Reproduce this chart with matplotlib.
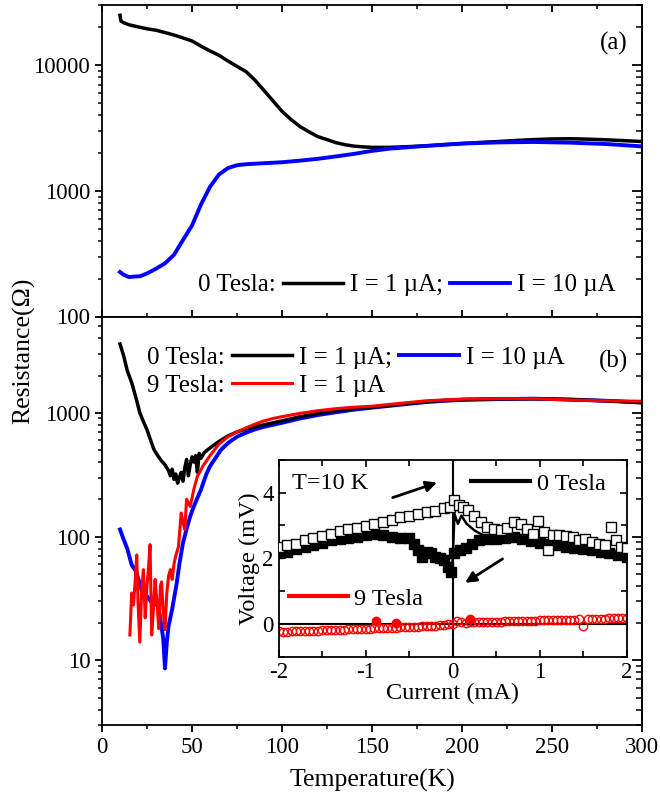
import matplotlib
matplotlib.use('Agg')
import matplotlib.pyplot as plt
from matplotlib import ticker
from matplotlib.lines import Line2D
import numpy as np

plt.rcParams['font.family'] = ['Liberation Serif', 'DejaVu Serif']
plt.rcParams['axes.unicode_minus'] = False
plt.rcParams['axes.linewidth'] = 1.3

# ---- panel (a): 0 Tesla, two currents ----
Ta_1uA = [10, 10.5, 12, 15, 20, 25, 30, 35, 40, 45, 50, 55, 60, 65, 70, 75, 80, 85, 90, 95,
          100, 105, 110, 115, 120, 125, 130, 135, 140, 145, 150, 160, 170, 180, 190, 200,
          210, 220, 230, 240, 250, 260, 270, 280, 290, 300]
Ra_1uA = [25000, 22500, 21800, 21000, 20200, 19500, 19000, 18200, 17400, 16500, 15600, 14200,
          13000, 12000, 10800, 9800, 8900, 7600, 6300, 5200, 4300, 3700, 3250, 2950, 2700,
          2560, 2420, 2330, 2270, 2240, 2220, 2220, 2250, 2280, 2330, 2380, 2430, 2470, 2520,
          2560, 2590, 2600, 2580, 2550, 2510, 2470]
Ta_10uA = [10, 12, 15, 18, 21, 25, 30, 35, 40, 45, 50, 55, 60, 65, 70, 75, 80, 90, 100, 110,
           120, 130, 140, 150, 160, 180, 200, 220, 240, 260, 280, 300]
Ra_10uA = [226, 215, 206, 208, 209, 220, 240, 265, 310, 406, 530, 780, 1077, 1350, 1520, 1600,
           1630, 1660, 1690, 1740, 1800, 1880, 1970, 2080, 2170, 2280, 2380, 2430, 2450, 2420,
           2360, 2260]

# ---- panel (b) ----
Tb_0T_1uA = [10, 12, 14, 16.5, 19, 21, 23, 25, 27, 29, 31, 33, 35, 37, 38, 39, 40, 41, 42, 43,
             44, 45, 46, 47, 48, 49, 50, 51, 52, 53, 54, 55, 57, 60, 63, 66, 70, 75, 80, 85,
             90, 95, 100, 110, 120, 130, 140, 150, 160, 170, 180, 190, 200, 220, 240, 260,
             280, 300]
Rb_0T_1uA = [3600, 2900, 2200, 1750, 1300, 1000, 850, 730, 600, 500, 450, 410, 380, 340, 310,
             350, 290, 320, 270, 300, 330, 280, 360, 420, 310, 380, 440, 400, 450, 330, 470,
             430, 480, 520, 560, 600, 650, 700, 740, 770, 800, 830, 860, 930, 990, 1040, 1080,
             1110, 1150, 1190, 1230, 1260, 1280, 1295, 1300, 1280, 1250, 1210]
Tb_0T_10uA = [10, 12, 14, 16.5, 19, 22, 25, 27, 29, 31, 33, 34, 35, 36, 37, 39, 41.5, 43, 45,
              47, 49, 51, 53, 55, 58, 60, 63, 66, 70, 75, 80, 85, 90, 95, 100, 110, 120, 130,
              140, 150, 160, 170, 180, 190, 200, 220, 240, 260, 280, 300]
Rb_0T_10uA = [114, 95, 80, 59, 52, 37, 33, 30, 28, 29, 19, 15, 8.6, 14, 19, 26, 42, 60, 89,
              115, 146, 175, 205, 240, 320, 370, 430, 500, 570, 640, 690, 735, 770, 800, 830,
              900, 960, 1010, 1060, 1100, 1140, 1180, 1220, 1250, 1270, 1290, 1300, 1280, 1250,
              1210]
Tb_9T_1uA = [15.5, 16.5, 17.5, 18.5, 19.3, 20, 21, 22, 23, 24, 25, 26, 26.7, 27.6, 28.5, 29.5,
             30.5, 31.5, 32.5, 33.1, 34, 35, 36, 37, 38, 39, 40, 41, 42.5, 44, 45, 46, 47, 49,
             51, 53, 56, 60, 65, 70, 75, 80, 85, 90, 95, 100, 110, 120, 130, 140, 150, 160,
             170, 180, 190, 200, 220, 240, 260, 280, 300]
Rb_9T_1uA = [16, 35, 28, 45, 71, 30, 14, 35, 54, 22, 40, 60, 86, 16, 25, 45, 30, 18, 40, 43,
             25, 17.7, 35, 48, 54, 45, 60, 70, 83, 155, 130, 114, 200, 175, 240, 307, 370, 450,
             560, 640, 700, 756, 810, 860, 900, 930, 990, 1040, 1080, 1110, 1130, 1170, 1210,
             1250, 1270, 1290, 1300, 1300, 1270, 1250, 1240]

# ---- inset: V-I at T = 10 K ----
I_open = [-2.0, -1.9, -1.8, -1.7, -1.6, -1.5, -1.4, -1.3, -1.2, -1.1, -1.0, -0.9, -0.8, -0.7,
          -0.6, -0.5, -0.4, -0.3, -0.2, -0.1, -0.03, 0.02, 0.07, 0.12, 0.18, 0.25, 0.32, 0.4,
          0.48, 0.55, 0.62, 0.7, 0.78, 0.85, 0.92, 0.98, 1.05, 1.1, 1.15, 1.22, 1.3, 1.38,
          1.45, 1.52, 1.6, 1.68, 1.75, 1.82, 1.88, 1.94, 2.0]
V_open = [2.35, 2.42, 2.45, 2.55, 2.62, 2.68, 2.75, 2.82, 2.88, 2.92, 2.98, 3.03, 3.1, 3.17,
          3.25, 3.3, 3.36, 3.42, 3.45, 3.52, 3.55, 3.78, 3.62, 3.55, 3.48, 3.3, 3.1, 2.95,
          2.88, 2.85, 2.92, 3.1, 3.05, 2.9, 2.75, 3.15, 2.8, 2.25, 2.72, 2.7, 2.68, 2.65, 2.55,
          2.6, 2.5, 2.45, 2.4, 2.95, 2.55, 2.35, 2.3]
I_fill = [-2.0, -1.9, -1.8, -1.7, -1.6, -1.5, -1.4, -1.3, -1.2, -1.1, -1.0, -0.9, -0.8, -0.7,
          -0.6, -0.5, -0.45, -0.4, -0.35, -0.3, -0.25, -0.2, -0.15, -0.1, -0.05, -0.02, 0.02,
          0.08, 0.15, 0.22, 0.3, 0.4, 0.5, 0.6, 0.7, 0.8, 0.9, 1.0, 1.1, 1.2, 1.3, 1.4, 1.5,
          1.6, 1.7, 1.8, 1.9, 2.0]
V_fill = [2.15, 2.2, 2.28, 2.35, 2.42, 2.48, 2.55, 2.6, 2.62, 2.65, 2.7, 2.75, 2.72, 2.65,
          2.62, 2.62, 2.45, 2.25, 2.05, 2.2, 2.15, 2.05, 2.0, 1.95, 1.75, 1.6, 2.15, 2.25, 2.3,
          2.45, 2.55, 2.6, 2.6, 2.62, 2.65, 2.58, 2.52, 2.48, 2.45, 2.4, 2.36, 2.32, 2.28, 2.24,
          2.2, 2.15, 2.1, 2.05]
I_line = [-2.0, -1.8, -1.6, -1.4, -1.2, -1.0, -0.9, -0.8, -0.7, -0.6, -0.5, -0.45, -0.4, -0.35,
          -0.3, -0.25, -0.2, -0.15, -0.1, -0.05, -0.02, 0.0, 0.02, 0.06, 0.1, 0.16, 0.25, 0.35,
          0.45, 0.6, 0.7, 0.8, 1.0, 1.2, 1.4, 1.6, 1.8, 2.0]
V_line = [2.15, 2.28, 2.42, 2.55, 2.62, 2.7, 2.75, 2.72, 2.65, 2.62, 2.62, 2.45, 2.25, 2.05,
          2.2, 2.15, 2.05, 2.0, 1.95, 1.75, 1.6, 1.95, 3.35, 3.05, 3.3, 3.05, 2.85, 2.7, 2.62,
          2.62, 2.65, 2.58, 2.48, 2.4, 2.32, 2.24, 2.15, 2.05]
I_9T = [-2.0, -1.95, -1.9, -1.85, -1.8, -1.75, -1.7, -1.65, -1.6, -1.55, -1.5, -1.45, -1.4,
        -1.35, -1.3, -1.25, -1.2, -1.15, -1.1, -1.05, -1.0, -0.95, -0.9, -0.85, -0.8, -0.75,
        -0.7, -0.65, -0.6, -0.55, -0.5, -0.45, -0.4, -0.35, -0.3, -0.25, -0.2, -0.15, -0.1,
        -0.05, 0.0, 0.05, 0.1, 0.15, 0.2, 0.25, 0.3, 0.35, 0.4, 0.45, 0.5, 0.55, 0.6, 0.65,
        0.7, 0.75, 0.8, 0.85, 0.9, 0.95, 1.0, 1.05, 1.1, 1.15, 1.2, 1.25, 1.3, 1.35, 1.4, 1.45,
        1.5, 1.55, 1.6, 1.65, 1.7, 1.75, 1.8, 1.85, 1.9, 1.95, 2.0]
V_9T = [-0.22, -0.24, -0.23, -0.22, -0.22, -0.21, -0.21, -0.2, -0.2, -0.2, -0.19, -0.19, -0.18,
        -0.18, -0.17, -0.17, -0.16, -0.16, -0.15, -0.15, -0.14, -0.14, -0.13, -0.13, -0.12,
        -0.12, -0.11, -0.11, -0.1, -0.1, -0.09, -0.09, -0.08, -0.07, -0.06, -0.05, -0.05, -0.04,
        -0.03, -0.01, 0.01, 0.09, 0.06, 0.04, 0.05, 0.05, 0.05, 0.06, 0.06, 0.06, 0.07, 0.07,
        0.08, 0.08, 0.08, 0.09, 0.09, 0.1, 0.1, 0.1, 0.11, 0.11, 0.12, 0.12, 0.12, 0.13, 0.13,
        0.14, 0.14, 0.15, -0.07, 0.15, 0.16, 0.16, 0.17, 0.17, 0.18, 0.18, 0.19, 0.19, 0.2]
I_9T_fill = [-0.88, -0.65, 0.2]
V_9T_fill = [0.08, 0.03, 0.16]

ya_ticks = [100, 1000, 10000]
ya_labels = ['100', '1000', '10000']
yb_ticks = [10, 100, 1000]
yb_labels = ['10', '100', '1000']

BLUE = '#0000ff'
RED = '#ff0000'

fig = plt.figure(figsize=(6.6, 8.02), dpi=100)
L, W = 102 / 660, 540 / 660
ax_a = fig.add_axes([L, 1 - 316.5 / 802, W, 311.2 / 802])
ax_b = fig.add_axes([L, 1 - 725 / 802, W, 408.5 / 802])


def style_main(ax, ylim, yticks, ylabels):
    ax.set_xlim(0, 300)
    ax.set_yscale('log')
    ax.set_ylim(*ylim)
    ax.xaxis.set_major_locator(ticker.MultipleLocator(50))
    ax.xaxis.set_minor_locator(ticker.MultipleLocator(25))
    ax.yaxis.set_major_locator(ticker.FixedLocator(yticks))
    ax.yaxis.set_major_formatter(ticker.FixedFormatter(ylabels))
    ax.yaxis.set_minor_locator(ticker.LogLocator(base=10, subs=np.arange(2, 10)))
    ax.yaxis.set_minor_formatter(ticker.NullFormatter())
    ax.tick_params(which='major', length=5, width=1.3, labelsize=16.5)
    ax.tick_params(which='minor', length=3, width=1.1)
    ax.tick_params(axis='y', which='both', direction='out', left=True, right=False)
    sec = ax.secondary_yaxis('right')
    sec.yaxis.set_major_locator(ticker.FixedLocator(yticks))
    sec.yaxis.set_minor_locator(ticker.LogLocator(base=10, subs=np.arange(2, 10)))
    sec.tick_params(which='both', direction='in', labelright=False)
    sec.tick_params(which='major', length=7, width=1.3)
    sec.tick_params(which='minor', length=4, width=1.1)


# panel (a)
la1, = ax_a.plot(Ta_1uA, Ra_1uA, color='k', lw=2.5, label='I = 1 µA;')
la2, = ax_a.plot(Ta_10uA, Ra_10uA, color=BLUE, lw=2.8, label='I = 10 µA')
style_main(ax_a, (100, 30000), ya_ticks, ya_labels)
ax_a.tick_params(axis='x', which='both', direction='in', top=True, bottom=True, labelbottom=False)
ax_a.text(0.974, 0.879, '(a)', transform=ax_a.transAxes, ha='right', va='center', fontsize=18)
blank0 = Line2D([], [], color='none', label='0 Tesla:')
ax_a.legend(handles=[blank0, la1, la2], ncol=3, loc='center left', bbox_to_anchor=(0.0537, 0.101),
            frameon=False, fontsize=18, handlelength=2.4, handletextpad=0.28, columnspacing=0.28,
            borderpad=0, borderaxespad=0)

# panel (b)
lb2, = ax_b.plot(Tb_0T_10uA, Rb_0T_10uA, color=BLUE, lw=2.8, label='I = 10 µA')
lb1, = ax_b.plot(Tb_0T_1uA, Rb_0T_1uA, color='k', lw=2.5, label='I = 1 µA;')
lb3, = ax_b.plot(Tb_9T_1uA, Rb_9T_1uA, color=RED, lw=2.2, label='I = 1 µA')
style_main(ax_b, (3, 6000), yb_ticks, yb_labels)
ax_b.tick_params(axis='x', which='both', direction='out', top=False, bottom=True)
ax_b.set_xlabel('Temperature(K)', fontsize=18.5, labelpad=8)
ax_b.text(0.974, 0.891, '(b)', transform=ax_b.transAxes, ha='right', va='center', fontsize=18)
blank9 = Line2D([], [], color='none', label='9 Tesla:')
ax_b.legend(handles=[blank0, blank9, lb1, lb3, lb2], ncol=3, loc='center left',
            bbox_to_anchor=(-0.0407, 0.865), frameon=False, fontsize=18, handlelength=2.4,
            handletextpad=0.28, columnspacing=0.28, labelspacing=0.2, borderpad=0,
            borderaxespad=0)

fig.text(24 / 660, 1 - 351 / 802, 'Resistance(Ω)', rotation=90, ha='center', va='center',
         fontsize=18.5)

# inset
ins = fig.add_axes([278.7 / 660, 1 - 657 / 802, 348 / 660, 197.3 / 802])
ins.axhline(0, color='k', lw=1.5, zorder=1)
ins.axvline(0, color='k', lw=1.5, zorder=1)
ins.plot(I_9T, V_9T, 'o', ms=6, mfc='none', mec=RED, mew=1.0, zorder=2)
ins.plot(I_9T_fill, V_9T_fill, 'o', ms=6, color=RED, zorder=2)
ins.plot(I_line, V_line, '-', color='k', lw=1.8, zorder=3)
ins.plot(I_fill, V_fill, 's', ms=7, color='k', zorder=3)
ins.plot(I_open, V_open, 's', ms=7, mfc='white', mec='k', mew=1.0, zorder=4)
ins.annotate('', xy=(-0.15, 4.33), xytext=(-0.72, 3.82),
             arrowprops=dict(arrowstyle='-|>', color='k', lw=2, mutation_scale=16))
ins.annotate('', xy=(0.116, 1.21), xytext=(0.60, 2.03),
             arrowprops=dict(arrowstyle='-|>', color='k', lw=2, mutation_scale=16))
ins.text(-1.85, 4.28, 'T=10 K', ha='left', va='center', fontsize=17.5)
ins.set_xlim(-2, 2)
ins.set_ylim(-1, 5)
ins.xaxis.set_major_locator(ticker.MultipleLocator(1))
ins.xaxis.set_minor_locator(ticker.MultipleLocator(0.5))
ins.yaxis.set_major_locator(ticker.MultipleLocator(2))
ins.yaxis.set_minor_locator(ticker.MultipleLocator(1))
ins.tick_params(which='both', direction='in', top=True, right=True, width=1.2)
ins.tick_params(which='major', length=5, labelsize=16.5)
ins.tick_params(which='minor', length=4)
ins.set_xlabel('Current (mA)', fontsize=17.5, labelpad=0)
ins.set_ylabel('Voltage (mV)', fontsize=17.5, labelpad=2)
h0 = Line2D([], [], color='k', lw=3)
h9 = Line2D([], [], color=RED, lw=3)
leg0 = ins.legend([h0], ['0 Tesla'], loc='center left', bbox_to_anchor=(0.553, 0.877),
                  frameon=False, fontsize=17.5, handlelength=2.43, handletextpad=0.27,
                  borderpad=0, borderaxespad=0)
ins.add_artist(leg0)
ins.legend([h9], ['9 Tesla'], loc='center left', bbox_to_anchor=(0.029, 0.294),
           frameon=False, fontsize=17.5, handlelength=2.43, handletextpad=0.27,
           borderpad=0, borderaxespad=0)

fig.savefig('out.png', dpi=100)
